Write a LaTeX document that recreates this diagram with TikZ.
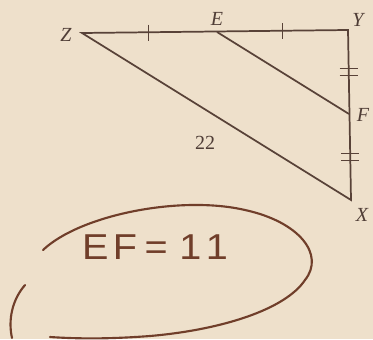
\documentclass[tikz,border=0pt]{standalone}
\usepackage{fontspec}
\usetikzlibrary{calc}
\setmainfont{Liberation Serif}
\newfontfamily\handfont{Liberation Sans}
\begin{document}
\begin{tikzpicture}[x=0.75pt,y=-0.75pt,
  seg/.style={draw=lineink,line width=1.3pt},
  tick/.style={draw=lineink,line width=1pt},
  vlabel/.style={font=\itshape\fontsize{15}{15}\selectfont,text=labelink,inner sep=0pt},
  hand/.style={draw=handink,line width=1.6pt,line cap=round}]
\definecolor{paper}{RGB}{238,224,203}
\definecolor{lineink}{RGB}{88,66,56}
\definecolor{labelink}{RGB}{80,62,55}
\definecolor{handink}{RGB}{112,62,42}
\fill[paper] (0,0) rectangle (373,339);
\useasboundingbox (0,0) rectangle (373,339);
% vertices
\coordinate (Z) at (82,33);
\coordinate (E) at (217,32);
\coordinate (Y) at (348,30);
\coordinate (F) at (349,114);
\coordinate (X) at (351,200);
% sides
\draw[seg] (Z) -- (Y) -- (X) -- cycle;
\draw[seg] (E) -- (F);
% single ticks
\draw[tick] ($(Z)!0.5!(E)+(-1,-8)$) -- ($(Z)!0.5!(E)+(-1,8)$);
\draw[tick] ($(E)!0.5!(Y)+(0,-8)$) -- ($(E)!0.5!(Y)+(0,8)$);
% double ticks
\draw[tick] ($(Y)!0.5!(F)+(-9,-3.5)$) -- ($(Y)!0.5!(F)+(9,-3.5)$);
\draw[tick] ($(Y)!0.5!(F)+(-9,3.5)$) -- ($(Y)!0.5!(F)+(9,3.5)$);
\draw[tick] ($(F)!0.5!(X)+(-9,-3.5)$) -- ($(F)!0.5!(X)+(9,-3.5)$);
\draw[tick] ($(F)!0.5!(X)+(-9,3.5)$) -- ($(F)!0.5!(X)+(9,3.5)$);
% labels
\node[vlabel] (lZ) at (66,35) {Z};
\node[vlabel] (lE) at (217,19) {E};
\node[vlabel] (lY) at (358,20) {Y};
\node[vlabel] (lF) at (363,115) {F};
\node[vlabel] (lX) at (362,215) {X};
\node[font=\fontsize{15}{15}\selectfont,text=labelink,inner sep=0pt] (l22) at (205,143) {22};
% handwritten answer
\node[font=\handfont\fontsize{27}{27}\selectfont,text=handink,xscale=1.1,inner sep=0pt] (ans) at (155,247) {E\hspace{3pt}F\hspace{5pt}=\hspace{8pt}1\hspace{3pt}1};
\draw[hand] (43,250) .. controls (80,215) and (180,195) .. (245,210)
  .. controls (300,222) and (325,255) .. (305,280)
  .. controls (285,310) and (220,330) .. (150,336)
  .. controls (110,339) and (80,339) .. (50,337);
\draw[hand] (25,285) .. controls (12,300) and (8,320) .. (12,338);
\end{tikzpicture}
\end{document}
